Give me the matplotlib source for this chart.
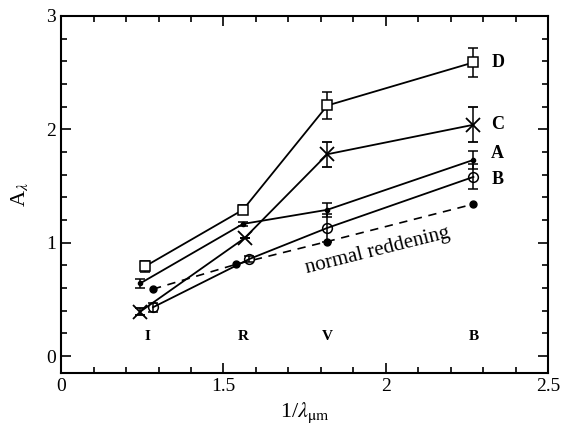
import matplotlib
matplotlib.use("Agg")
import matplotlib.pyplot as plt
from matplotlib.ticker import MultipleLocator, FixedLocator

plt.rcParams['font.family'] = ['Liberation Serif', 'DejaVu Serif']
plt.rcParams['mathtext.fontset'] = 'stix'

# 1/lambda positions of the bands
x_D = [1.258, 1.56, 1.82, 2.27]
y_D = [0.79, 1.29, 2.21, 2.59]
e_D = [0.05, 0.04, 0.12, 0.13]

x_C = [1.243, 1.565, 1.82, 2.27]
y_C = [0.39, 1.04, 1.78, 2.04]
e_C = [0.03, 0.0, 0.11, 0.155]

x_A = [1.243, 1.56, 1.82, 2.27]
y_A = [0.64, 1.165, 1.29, 1.73]
e_A = [0.04, 0.02, 0.06, 0.08]

x_B = [1.283, 1.58, 1.82, 2.27]
y_B = [0.43, 0.856, 1.13, 1.58]
e_B = [0.04, 0.03, 0.12, 0.11]

x_norm = [1.283, 1.54, 1.82, 2.27]
y_norm = [0.59, 0.81, 1.01, 1.34]

band_x = [1.265, 1.56, 1.82, 2.27]
band_names = ['I', 'R', 'V', 'B']

fig = plt.figure(figsize=(5.61, 4.43), dpi=100)
ax = fig.add_axes([0.109, 0.158, 0.868, 0.806])

kw = dict(color='black', lw=1.3, capsize=3.5, elinewidth=1.1, capthick=1.1)
ax.errorbar(x_D, y_D, yerr=e_D, marker='s', ms=7, mfc='white', mew=1.1, **kw)
ax.errorbar(x_C, y_C, yerr=e_C, marker='x', ms=10, mew=1.3, **kw)
ax.errorbar(x_A, y_A, yerr=e_A, marker='o', ms=3, **kw)
ax.errorbar(x_B, y_B, yerr=e_B, marker='o', ms=7, mfc='none', mew=1.1, **kw)
ax.plot(x_norm, y_norm, color='black', lw=1.2, ls=(0, (5, 4)), marker='o', ms=5)

lab_y = [y_D[-1], y_C[-1], y_A[-1] + 0.06, y_B[-1] - 0.02]
for lab, yy in zip(['D', 'C', 'A', 'B'], lab_y):
    ax.text(x_D[-1] + 0.055, yy, lab, fontsize=13, fontweight='bold', va='center', ha='left')

for bx, bn in zip(band_x, band_names):
    ax.text(bx, 0.17, bn, fontsize=11, fontweight='bold', ha='center', va='center')

ax.text(1.976, 0.93, 'normal reddening', fontsize=15, rotation=14, ha='center', va='center')

ax.set_xlim(1.0, 2.5)
ax.set_ylim(-0.15, 3.0)
ax.xaxis.set_major_locator(FixedLocator([1.0, 1.5, 2.0, 2.5]))
ax.set_xticklabels(['0', '1.5', '2', '2.5'])
ax.xaxis.set_minor_locator(MultipleLocator(0.1))
ax.yaxis.set_major_locator(MultipleLocator(1))
ax.yaxis.set_minor_locator(MultipleLocator(0.2))
ax.tick_params(which='both', direction='in', top=True, right=True, labelsize=14, width=1.2)
ax.tick_params(which='major', length=7)
ax.tick_params(which='minor', length=4)
for s in ax.spines.values():
    s.set_linewidth(1.5)

ax.set_xlabel(r'1/$\lambda_{\mathrm{\mu m}}$', fontsize=16)
ax.set_ylabel(r'A$_\lambda$', fontsize=16, labelpad=12)

fig.savefig('out.png', dpi=100)
